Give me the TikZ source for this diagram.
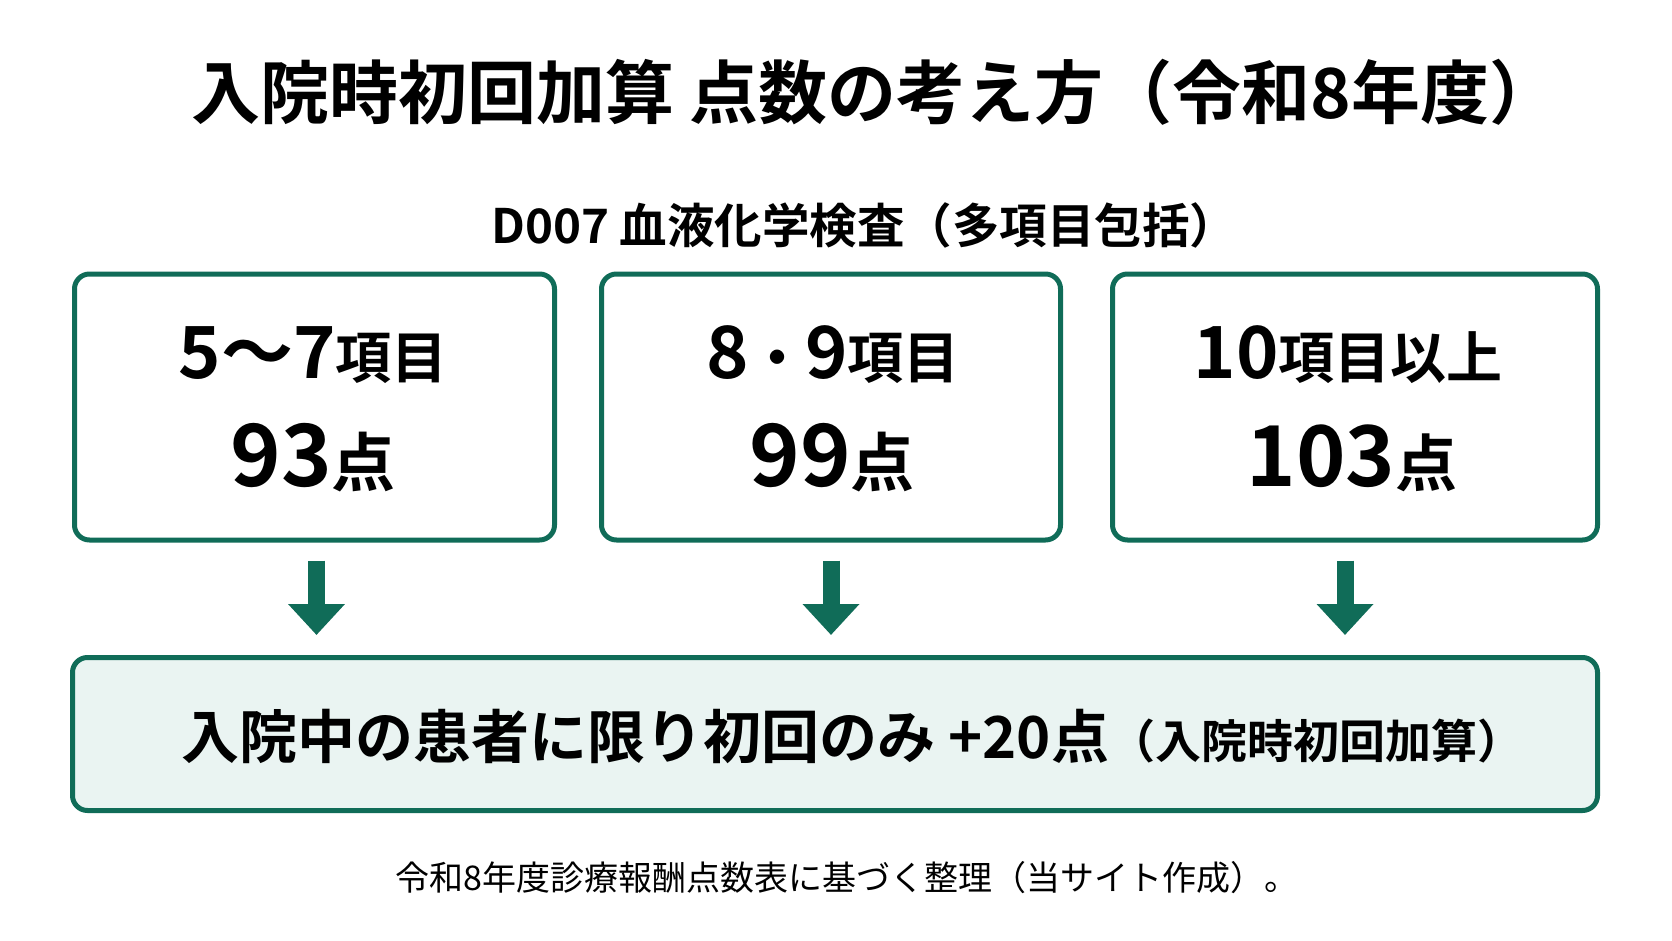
\documentclass[tikz,border=0pt]{standalone}
\usepackage{fontspec}
\setmainfont{Noto Sans CJK JP}[BoldFont={Noto Sans CJK JP Bold}]
\usetikzlibrary{arrows.meta}

\definecolor{kgreen}{RGB}{16,108,88}
\definecolor{kmint}{RGB}{234,244,242}
\newcommand{\fsz}[1]{\fontsize{#1}{#1}\selectfont}

\begin{document}
\begin{tikzpicture}[x=1pt,y=-1pt,
    itembox/.style={draw=kgreen,line width=5pt,rounded corners=15pt,fill=white,
      minimum height=266pt,inner sep=0pt},
    totalbox/.style={itembox,fill=kmint,minimum width=1525pt,minimum height=153pt},
    downarr/.style={kgreen,line width=17pt,-{Triangle[width=55pt,length=31pt]},
      shorten <=18pt,shorten >=20pt},
    lbl/.style={inner sep=0pt,font=\bfseries}]
    % Page
    \useasboundingbox[fill=white] (0,0) rectangle (1672,941);

    % Title and heading
    \node[lbl,anchor=west] (title) at (191,92) {\fsz{69}入院時初回加算 点数の考え方（令和8年度）};
    \node[lbl,anchor=west] (head) at (491,225) {\fsz{47.5}D007 血液化学検査（多項目包括）};

    % Item boxes
    \node[itembox,minimum width=480pt] (b1) at (314.5,407) {};
    \node[itembox,minimum width=459pt] (b2) at (831,407) {};
    \node[itembox,minimum width=485pt] (b3) at (1355,407) {};

    % Box texts
    \node[lbl,anchor=base] (n1) at (313,378) {\fsz{72}5～7\fsz{56}項目};
    \node[lbl,anchor=base] (p1) at (313,486) {\fsz{86}93\fsz{64}点};
    \node[lbl,anchor=base] (n2) at (833,378) {\fsz{72}8\fsz{56}・\fsz{72}9\fsz{56}項目};
    \node[lbl,anchor=base] (p2) at (832,486) {\fsz{86}99\fsz{64}点};
    \node[lbl,anchor=base] (n3) at (1348,378) {\fsz{72}10\fsz{56}項目以上};
    \node[lbl,anchor=base] (p3) at (1352,486) {\fsz{84}103\fsz{62}点};

    % Total box
    \node[totalbox] (total) at (835,734) {};
    \node[lbl,anchor=west] (plus) at (181,736) {\fsz{58}入院中の患者に限り初回のみ +20点\fsz{46}（入院時初回加算）};

    % Arrows
    \draw[downarr] ([xshift=2pt]b1.south) -- ([xshift=2pt]b1.south |- total.north);
    \draw[downarr] (b2.south) -- (b2.south |- total.north);
    \draw[downarr] ([xshift=-10pt]b3.south) -- ([xshift=-10pt]b3.south |- total.north);

    % Source note
    \node[inner sep=0pt,anchor=west] (note) at (395,878) {\fsz{34}令和8年度診療報酬点数表に基づく整理（当サイト作成）。};
\end{tikzpicture}
\end{document}
